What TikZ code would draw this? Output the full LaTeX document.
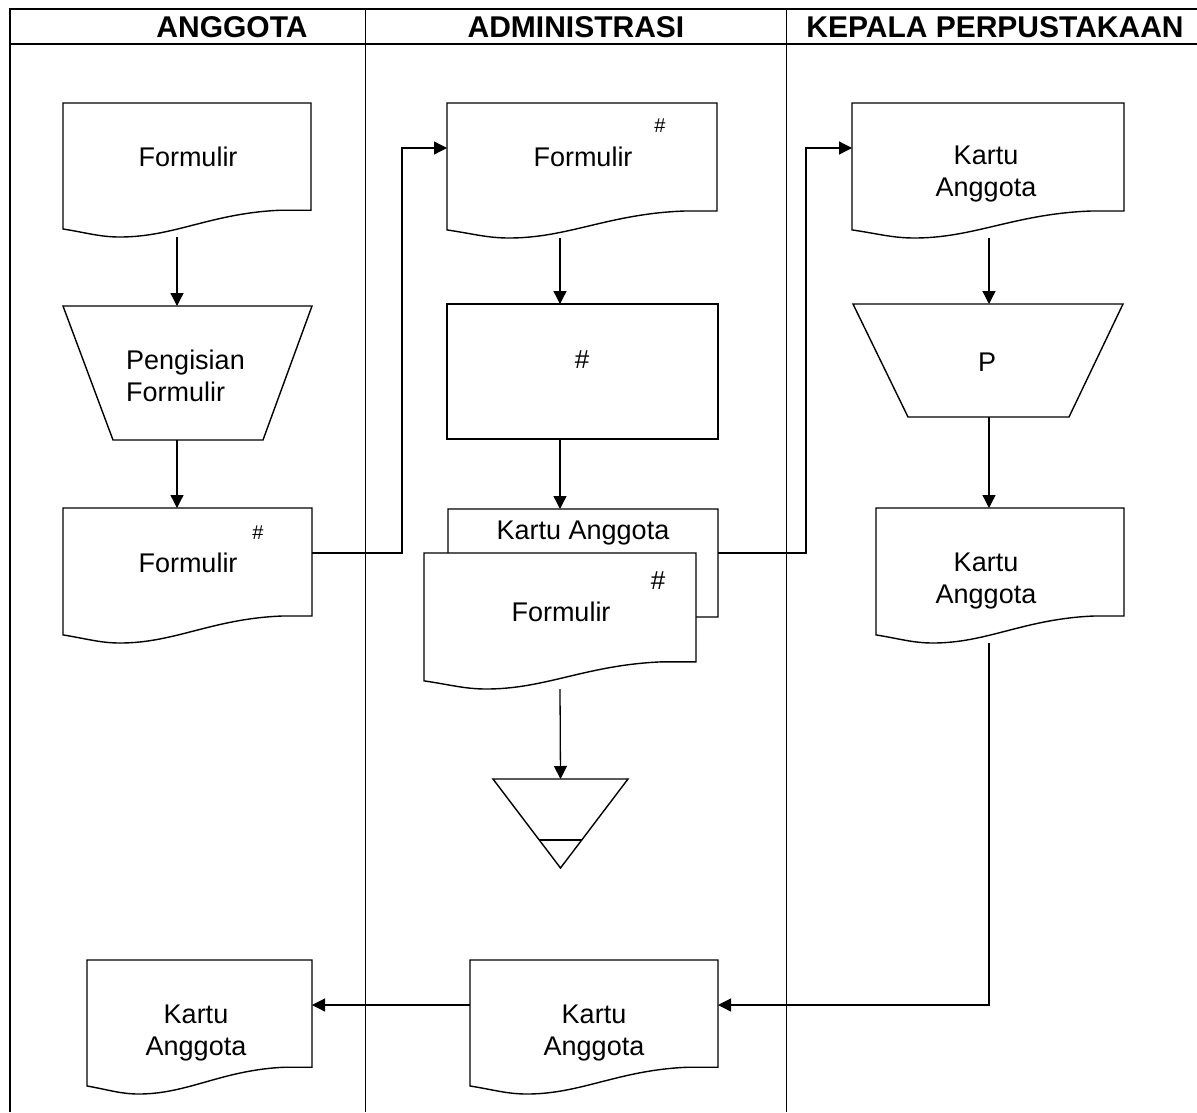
\documentclass[tikz,border=0pt]{standalone}
\usepackage{fontspec}
\setmainfont{Liberation Sans}
\usetikzlibrary{calc,arrows.meta}
\tikzset{
  shp/.style={draw=none, inner sep=0pt, outer sep=0pt, rectangle},
  outline/.style={draw, line width=1.4pt, fill=white, line join=miter},
  lane/.style={line width=1pt},
  frame/.style={line width=2.6pt},
  arr/.style={line width=1.3pt, -{Triangle[length=13pt,width=13pt]}},
  txt/.style={font=\fontsize{27}{32}\selectfont, inner sep=0pt, align=center},
  hash/.style={font=\fontsize{26}{30}\selectfont, inner sep=0pt},
  shash/.style={font=\fontsize{20}{24}\selectfont, inner sep=0pt},
  head/.style={font=\fontsize{30}{34}\selectfont\bfseries, inner sep=0pt},
}
\newcommand{\docshape}[1]{%
  \draw[outline] let \p1=(#1.north west), \p2=(#1.south east) in
  (\x1,\y1) -- (\x2,\y1) -- (\x2,{\y1+0.8*(\y2-\y1)}) -- ({\x1+0.88*(\x2-\x1)},{\y1+0.8*(\y2-\y1)})
  .. controls ({\x1+0.6*(\x2-\x1)},{\y1+0.82*(\y2-\y1)}) and ({\x1+0.45*(\x2-\x1)},\y2) .. ({\x1+0.23*(\x2-\x1)},\y2)
  .. controls ({\x1+0.15*(\x2-\x1)},\y2) and ({\x1+0.1*(\x2-\x1)},{\y1+0.97*(\y2-\y1)}) .. (\x1,{\y1+0.94*(\y2-\y1)}) -- cycle;}
\begin{document}
\begin{tikzpicture}[x=1pt,y=-1pt]
\useasboundingbox (0,0) rectangle (1197,1112);
% frame and lanes
\draw[lane] (365,9) -- (365,1112);
\draw[lane] (786,9) -- (786,1112);
\draw[frame] (10,1112) -- (10,9) -- (1200,9);
\draw[frame] (10,44) -- (1200,44);
\node[head] (h1) at (232,27) {ANGGOTA};
\node[head] (h2) at (576,27) {ADMINISTRASI};
\node[head] (h3) at (995,27) {KEPALA PERPUSTAKAAN};
% columns
\coordinate (cA) at (177,0);
\coordinate (cB) at (560,0);
\coordinate (cC) at (989,0);
% ANGGOTA lane
\node[shp, minimum width=248pt, minimum height=134pt] (d1) at (187,170) {};
\docshape{d1}
\node[txt] (d1t) at (188,157) {Formulir};
\node[shp, minimum width=249pt, minimum height=134pt] (t1) at (187.5,373) {};
\draw[outline] (t1.north west) -- (t1.north east) -- ([xshift=-49pt]t1.south east) -- ([xshift=50pt]t1.south west) -- cycle;
\node[txt, align=left] (t1t) at (185.5,376) {Pengisian\\Formulir};
\node[shp, minimum width=249pt, minimum height=135pt] (d2) at (187.5,575.5) {};
\docshape{d2}
\node[txt] (d2t) at (188,563) {Formulir};
\node[shash] (d2h) at (258,533) {\#};
% ADMINISTRASI lane
\node[shp, minimum width=270pt, minimum height=135pt] (a1) at (582,170.5) {};
\docshape{a1}
\node[txt] (a1t) at (583,157) {Formulir};
\node[shash] (a1h) at (660,126) {\#};
\node[shp, minimum width=271pt, minimum height=135pt] (r1) at (582.5,371.5) {};
\draw[outline] (r1.north west) rectangle (r1.south east);
\node[hash] (r1h) at (582,360) {\#};
\node[shp, minimum width=270pt, minimum height=135pt] (ka) at (583,576.5) {};
\docshape{ka}
\node[txt] (kat) at (583,533) {Kartu Anggota};
\node[shp, minimum width=272pt, minimum height=136pt] (af) at (560,621) {};
\docshape{af}
\node[txt] (aft) at (561,612) {Formulir};
\node[hash] (afh) at (658,581) {\#};
\node[shp, minimum width=135pt, minimum height=89pt] (tri) at (560.5,823.5) {};
\draw[outline] (tri.north west) -- (tri.north east) -- (tri.south) -- cycle;
\draw[line width=1.4pt] ($(tri.south)!0.315!(tri.north west)$) -- ($(tri.south)!0.315!(tri.north east)$);
\node[shp, minimum width=248pt, minimum height=134pt] (b2) at (594,1027) {};
\docshape{b2}
\node[txt] (b2t) at (594,1033) {Kartu\\Anggota};
% KEPALA lane
\node[shp, minimum width=272pt, minimum height=135pt] (k1) at (988,170.5) {};
\docshape{k1}
\node[txt] (k1t) at (986,174) {Kartu\\Anggota};
\node[shp, minimum width=270pt, minimum height=113pt] (kt) at (988,360.5) {};
\draw[outline] (kt.north west) -- (kt.north east) -- ([xshift=-54pt]kt.south east) -- ([xshift=55pt]kt.south west) -- cycle;
\node[txt] (ktt) at (987,362) {P};
\node[shp, minimum width=248pt, minimum height=135pt] (k2) at (1000,575.5) {};
\docshape{k2}
\node[txt] (k2t) at (986,581) {Kartu\\Anggota};
% bottom-left
\node[shp, minimum width=225pt, minimum height=134pt] (b1) at (199.5,1027) {};
\docshape{b1}
\node[txt] (b1t) at (196,1033) {Kartu\\Anggota};
% connectors
\draw[arr] (cA |- d1.south) -- (cA |- t1.north);
\draw[arr] (cA |- t1.south) -- (cA |- d2.north);
\draw[arr] ([yshift=22.5pt]d2.east) -- ++(90,0) |- ([yshift=22.5pt]a1.west);
\draw[arr] (cB |- a1.south) -- (cB |- r1.north);
\draw[arr] (cB |- r1.south) -- (cB |- ka.north);
\draw[arr] ([yshift=23.5pt]ka.east) -- ++(88,0) |- ([yshift=22.5pt]k1.west);
\draw[arr] (cB |- af.south) -- (tri.north);
\draw[arr] (cC |- k1.south) -- (cC |- kt.north);
\draw[arr] (cC |- kt.south) -- (cC |- k2.north);
\draw[arr] (cC |- k2.south) |- ([yshift=22pt]b2.east);
\draw[arr] ([yshift=22pt]b2.west) -- ([yshift=22pt]b1.east);
\end{tikzpicture}
\end{document}
